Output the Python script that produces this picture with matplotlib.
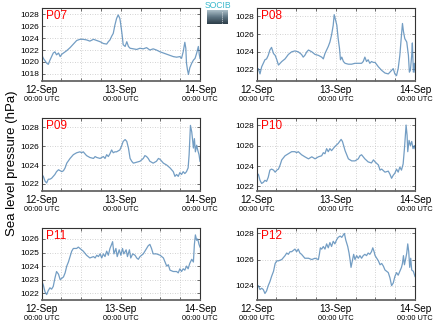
import numpy as np
import matplotlib
matplotlib.use('Agg')
import matplotlib.pyplot as plt
from matplotlib.ticker import MultipleLocator
from matplotlib.colors import LinearSegmentedColormap

plt.rcParams['font.family'] = ['Liberation Sans', 'DejaVu Sans']

# ------------------------------------------------------------
# data: hours after 12-Sep 00:00 UTC and sea level pressure (hPa)
# ------------------------------------------------------------
p07_hours = [0.0, 0.5, 1.5, 2.0, 2.5, 3.5, 4.0, 4.5, 5.1, 5.6, 6.1, 6.6, 7.6, 8.6, 9.6,
             10.6, 11.6, 12.6, 13.6, 14.6, 15.7, 16.7, 17.7, 18.7, 19.7, 20.2, 20.7, 21.2, 21.7, 22.2,
             22.7, 23.2, 23.7, 24.0, 24.4, 24.7, 25.3, 25.8, 26.3, 26.8, 27.8, 28.8, 29.8, 30.8, 31.8,
             32.8, 33.8, 34.8, 35.9, 36.9, 37.9, 38.9, 39.9, 40.9, 41.9, 42.4, 42.9, 43.4, 43.7, 43.9,
             44.2, 44.5, 44.9, 45.5, 46.0, 46.5, 47.0, 47.5, 47.8, 48.0]
p07_hpa = [1021.2, 1020.6, 1019.8, 1019.6, 1020.3, 1021.5, 1021.7, 1021.2, 1021.5, 1020.9,
           1021.3, 1021.5, 1021.9, 1022.4, 1023.0, 1023.6, 1023.8, 1023.8, 1023.7, 1023.5,
           1023.8, 1023.6, 1023.4, 1023.1, 1023.0, 1023.4, 1023.7, 1024.3, 1024.8, 1026.2,
           1027.3, 1027.9, 1027.3, 1026.2, 1024.5, 1022.9, 1022.6, 1023.4, 1022.6, 1022.3,
           1022.2, 1022.1, 1022.3, 1022.2, 1022.4, 1022.0, 1022.2, 1022.0, 1021.7, 1021.5,
           1021.3, 1021.1, 1020.9, 1020.8, 1020.9, 1020.6, 1021.7, 1023.3, 1022.3, 1019.8,
           1018.7, 1017.9, 1019.0, 1019.8, 1020.3, 1020.6, 1021.5, 1022.6, 1021.2, 1020.6]

p08_hours = [0.0, 0.5, 1.0, 1.5, 2.0, 2.5, 3.0, 3.5, 4.0, 4.5, 5.1, 5.6, 6.1, 6.6, 7.1, 7.6,
             8.6, 9.6, 10.6, 11.6, 12.6, 13.6, 14.1, 14.6, 15.2, 15.7, 16.7, 17.7, 18.7, 19.7,
             20.2, 20.7, 21.2, 21.7, 22.2, 22.7, 23.2, 23.5, 23.9, 24.3, 24.7, 25.1, 25.4, 25.8, 26.3, 26.8,
             27.8, 28.8, 29.8, 30.8, 31.8, 32.3, 32.8, 33.3, 33.8, 34.3, 34.8, 35.4, 35.9, 36.9, 37.9, 38.9, 39.9, 40.9,
             41.4, 41.9, 42.4, 42.9, 43.4, 43.9, 44.2, 44.5, 44.9, 45.5, 46.0, 46.3, 46.6, 47.0, 47.2, 47.5, 47.8, 48.0]
p08_hpa = [1021.7, 1022.1, 1021.5, 1022.3, 1022.7, 1023.1, 1023.2, 1023.6, 1024.2, 1024.5, 1023.8, 1023.6, 1023.1, 1022.5, 1022.7, 1022.9,
           1023.2, 1023.7, 1024.0, 1024.1, 1024.0, 1023.7, 1023.4, 1023.6, 1024.0, 1024.2, 1024.0, 1023.7, 1023.6, 1023.4,
           1023.2, 1023.8, 1024.2, 1024.6, 1025.1, 1025.9, 1027.0, 1028.2, 1027.6, 1027.0, 1025.5, 1024.4, 1023.1, 1023.4, 1022.9, 1022.7,
           1022.6, 1022.6, 1022.7, 1022.7, 1022.7, 1022.9, 1023.4, 1022.9, 1023.1, 1022.7, 1022.9, 1022.8, 1022.8, 1022.3, 1021.9, 1021.6, 1021.5, 1021.9,
           1022.1, 1021.5, 1021.3, 1022.1, 1023.6, 1025.9, 1027.2, 1026.3, 1025.5, 1025.1, 1023.6, 1021.7, 1021.9, 1023.6, 1025.0, 1021.7, 1022.7, 1021.7]

p09_hours = [0.0, 0.5, 1.0, 1.5, 2.0, 2.5, 3.0, 3.5, 4.0, 4.5, 5.1, 5.6, 6.1, 6.6, 7.1, 7.6,
             8.6, 9.6, 10.6, 11.6, 12.1, 12.6, 13.6, 14.6,
             15.7, 16.2, 16.7, 17.7, 18.7, 19.2, 19.7, 20.2, 20.7, 21.2, 21.7, 22.2, 22.7,
             23.7, 24.2, 24.7, 25.3, 25.8, 26.3, 26.8, 27.3, 27.8,
             28.8, 29.8, 30.8, 31.3, 31.8, 32.3, 32.8, 33.8, 34.8, 35.4, 35.9,
             36.9, 37.9, 38.9, 39.9, 40.4, 40.9, 41.4, 41.9, 42.4, 42.9, 43.4, 43.9, 44.4,
             44.7, 45.1, 45.5, 45.8, 46.0, 46.3, 46.6, 47.0, 47.3, 47.7, 48.0]
p09_hpa = [1023.0, 1022.8, 1022.3, 1022.1, 1022.5, 1022.5, 1022.6, 1022.8, 1023.0, 1023.3, 1023.5, 1023.4, 1023.3, 1023.4, 1023.7, 1024.2,
           1024.7, 1025.1, 1025.3, 1025.4, 1025.3, 1025.4, 1025.0, 1024.8,
           1024.7, 1024.9, 1024.8, 1024.7, 1024.9, 1024.7, 1025.1, 1024.9, 1025.2, 1025.6, 1025.3, 1025.4, 1025.4,
           1025.6, 1026.0, 1026.5, 1026.7, 1026.5, 1025.8, 1024.7, 1024.4, 1024.2,
           1024.3, 1024.4, 1024.7, 1025.0, 1024.9, 1024.7, 1024.4, 1024.2, 1024.4, 1024.7, 1024.6,
           1024.2, 1024.0, 1023.7, 1023.3, 1022.8, 1023.0, 1022.8, 1023.2, 1023.0, 1023.3, 1023.1, 1023.3, 1023.7,
           1025.1, 1028.2, 1027.5, 1026.5, 1025.8, 1026.8, 1025.4, 1026.1, 1025.6, 1025.1, 1024.4]

p10_hours = [0.0, 0.5, 1.0, 1.5, 2.0, 2.5, 3.0, 3.5, 4.0, 4.5, 5.1, 5.6, 6.1, 6.6, 7.1, 7.6,
             8.6, 9.6, 10.6, 11.6, 12.1, 12.6, 13.6, 14.6, 15.7, 16.7, 17.7, 18.7, 19.7, 20.2,
             20.7, 21.2, 21.7, 22.2, 22.7, 23.7, 24.7, 25.6, 26.0, 26.8, 27.8, 28.8, 29.8, 30.8,
             31.3, 31.8, 32.8, 33.8, 34.8, 35.4, 35.9, 36.9, 37.4, 37.9, 38.9, 39.9, 40.4, 40.9,
             41.4, 41.9, 42.4, 42.9, 43.4, 43.9, 44.4, 44.8, 45.3, 45.6, 45.8, 46.2, 46.6, 47.0,
             47.4, 47.8, 48.0]
p10_hpa = [1022.9, 1023.2, 1022.6, 1022.3, 1022.4, 1022.6, 1022.5, 1022.9, 1023.6, 1023.7, 1023.6, 1023.4, 1023.6, 1023.7, 1024.1, 1024.6,
           1025.0, 1025.2, 1025.4, 1025.4, 1025.3, 1025.4, 1025.1, 1024.9, 1024.7, 1024.9, 1024.7, 1024.9, 1025.0, 1025.3,
           1025.2, 1025.7, 1025.4, 1025.7, 1025.5, 1025.9, 1026.2, 1026.6, 1026.4, 1025.5, 1024.7, 1024.5, 1024.5, 1024.7,
           1025.0, 1025.1, 1024.7, 1024.4, 1024.3, 1024.6, 1024.4, 1024.1, 1023.6, 1023.7, 1023.4, 1023.5, 1023.2, 1022.8,
           1023.1, 1023.3, 1023.7, 1023.4, 1023.9, 1023.6, 1024.2, 1025.7, 1028.0, 1027.0, 1025.4, 1026.5, 1026.0, 1026.4,
           1025.7, 1026.0, 1025.7]

p11_hours = [0.0, 0.5, 1.0, 1.5, 2.0, 2.5, 3.0, 3.5, 4.0, 4.5, 5.1, 5.6, 6.1, 6.6, 7.1, 7.6, 8.1, 8.6, 9.1, 9.6,
             10.6, 11.1, 11.6, 12.1, 12.6, 13.6, 14.6, 15.7, 16.2, 16.7, 17.2, 17.7, 18.2, 18.7, 19.2, 19.7,
             20.2, 20.7, 21.2, 21.5, 21.9, 22.5, 22.9, 23.5, 24.0, 24.5, 24.9, 25.6, 26.0, 26.6, 27.0, 27.6,
             28.3, 28.8, 29.3, 29.8, 30.3, 30.8, 31.8, 32.3, 32.8, 33.3, 33.8, 34.8, 35.9, 36.9, 37.4, 37.9,
             38.4, 38.9, 39.9, 40.9, 41.4, 41.9, 42.4, 42.9, 43.4, 43.9, 44.4, 44.9, 45.5, 46.0, 46.3, 46.6,
             47.0, 47.3, 47.7, 48.0]
p11_hpa = [1022.9, 1022.6, 1022.1, 1021.9, 1022.2, 1022.4, 1022.3, 1022.5, 1023.1, 1023.6, 1023.4, 1023.0, 1023.1, 1023.2, 1023.5, 1024.0, 1024.3, 1024.7, 1025.1, 1025.3,
           1025.3, 1025.4, 1025.3, 1025.2, 1025.1, 1024.8, 1024.6, 1024.7, 1024.6, 1024.8, 1024.7, 1024.9, 1024.6, 1024.9, 1024.7, 1025.1,
           1024.8, 1025.3, 1025.6, 1025.8, 1024.9, 1025.3, 1024.7, 1025.2, 1024.8, 1025.3, 1024.9, 1025.2, 1024.7, 1025.2, 1024.6, 1024.9,
           1024.8, 1024.6, 1024.5, 1024.7, 1024.8, 1024.9, 1025.3, 1025.5, 1025.6, 1025.3, 1024.9, 1024.9, 1024.8, 1024.6, 1024.3, 1024.0,
           1024.1, 1023.7, 1023.6, 1023.6, 1023.5, 1023.8, 1023.6, 1023.8, 1023.7, 1024.0, 1023.8, 1024.2, 1024.5, 1024.3, 1025.6, 1026.3,
           1025.9, 1026.0, 1025.6, 1025.4]

p12_hours = [0.0, 0.5, 1.0, 1.5, 2.0, 2.5, 3.0, 3.5, 4.0, 4.5, 5.1, 5.6, 6.1, 6.6, 7.6, 8.6, 9.1, 9.6, 10.1, 10.6,
             11.1, 11.6, 12.1, 12.6, 13.1, 13.6, 14.6, 15.7, 16.7, 17.7, 18.7, 19.0, 19.3, 19.7, 20.2, 20.7,
             21.2, 21.7, 22.2, 22.7, 23.2, 23.7, 24.2, 24.7, 25.3, 25.8, 26.3, 26.6, 27.0, 27.6, 28.0, 28.3,
             28.6, 29.0, 29.4, 29.8, 30.3, 30.8, 31.3, 31.8, 32.3, 32.8, 33.3, 33.8, 34.3, 34.8, 35.2, 35.6,
             35.9, 36.4, 36.9, 37.4, 37.9, 38.4, 38.9, 39.9, 40.4, 40.9, 41.4, 41.9, 42.4, 42.9, 43.4, 43.9,
             44.2, 44.5, 44.8, 45.2, 45.5, 45.8, 46.1, 46.4, 46.7, 47.0, 47.5, 48.0]
p12_hpa = [1023.8, 1024.0, 1023.7, 1023.8, 1023.7, 1023.4, 1023.6, 1024.0, 1024.3, 1024.7, 1025.1, 1025.7, 1025.9, 1025.9, 1026.0, 1026.3, 1026.5, 1026.4, 1026.6, 1026.6,
           1026.7, 1026.8, 1026.6, 1026.8, 1026.5, 1026.4, 1026.1, 1026.1, 1026.0, 1026.1, 1026.0, 1026.4, 1026.9, 1026.8, 1027.0, 1026.8,
           1027.2, 1026.9, 1027.3, 1027.0, 1027.4, 1027.2, 1027.5, 1027.7, 1027.8, 1027.7, 1027.9, 1028.0, 1027.5, 1027.0, 1026.5, 1026.0,
           1025.4, 1025.9, 1026.4, 1026.0, 1026.3, 1026.1, 1026.3, 1026.1, 1026.3, 1026.4, 1026.3, 1026.5, 1026.4, 1026.6, 1026.9, 1026.6,
           1026.3, 1026.1, 1025.9, 1025.6, 1025.7, 1025.5, 1025.2, 1025.0, 1024.6, 1024.0, 1024.2, 1024.7, 1025.0, 1024.8, 1025.1, 1025.4,
           1025.7, 1026.3, 1025.6, 1026.1, 1026.5, 1027.2, 1026.6, 1025.4, 1026.1, 1025.2, 1025.1, 1024.7]

stations = ['P07', 'P08', 'P09', 'P10', 'P11', 'P12']
hours = [p07_hours, p08_hours, p09_hours, p10_hours, p11_hours, p12_hours]
pressure = [p07_hpa, p08_hpa, p09_hpa, p10_hpa, p11_hpa, p12_hpa]
y_ticks = [[1018, 1020, 1022, 1024, 1026, 1028],
           [1022, 1024, 1026, 1028],
           [1022, 1024, 1026, 1028],
           [1022, 1024, 1026, 1028],
           [1022, 1023, 1024, 1025, 1026],
           [1024, 1026, 1028]]
y_limits = [(1016.8, 1029.06), (1020.7, 1028.95), (1021.23, 1028.95),
            (1021.54, 1028.66), (1021.5, 1026.83), (1022.9, 1028.44)]
day_ticks = [0, 24, 48]
day_labels = ['12-Sep', '13-Sep', '14-Sep']
time_label = '00:00 UTC'

# ------------------------------------------------------------
# layout (pixels of a 434x327 figure)
# ------------------------------------------------------------
W, H = 434.0, 327.0
col_left = [41.7, 256.7]
ax_w = 158.3
row_top = [8.0, 118.3, 227.7]
row_bot = [81.0, 191.2, 300.0]

line_color = '#5085b5'
grid_color = '#c4c4c4'

fig = plt.figure(figsize=(W / 100, H / 100), dpi=100)

for i, name in enumerate(stations):
    r, c = divmod(i, 2)
    rect = [col_left[c] / W, 1 - row_bot[r] / H, ax_w / W, (row_bot[r] - row_top[r]) / H]
    ax = fig.add_axes(rect)
    ax.plot(hours[i], pressure[i], color=line_color, lw=0.9, alpha=0.8)
    ax.set_xlim(0, 48)
    ax.set_ylim(*y_limits[i])

    ax.set_xticks(day_ticks)
    ax.set_xticklabels(day_labels, fontsize=7.2)
    ax.xaxis.set_minor_locator(MultipleLocator(6))
    ax.set_yticks(y_ticks[i])
    ax.set_yticklabels([str(t) for t in y_ticks[i]], fontsize=6)

    ax.grid(True, which='both', axis='x', color=grid_color, lw=0.6, ls=(0, (1, 2)))
    ax.grid(True, which='major', axis='y', color=grid_color, lw=0.6, ls=(0, (1, 2)))
    ax.tick_params(which='both', direction='in', length=2, width=0.6, top=True, right=True,
                   color='#555555')
    ax.tick_params(axis='x', pad=3)
    ax.tick_params(axis='y', pad=2)
    for s in ax.spines.values():
        s.set_color('#333333')
        s.set_linewidth(0.8)
    ax.spines['bottom'].set_color('#666666')
    ax.spines['bottom'].set_linewidth(1.3)

    for t in day_ticks:
        ax.annotate(time_label, xy=(t, 0), xycoords=('data', 'axes fraction'),
                    xytext=(0, -13.5), textcoords='offset points',
                    ha='center', va='center', fontsize=5.3)

    ax.text(0.025, 0.975, name, transform=ax.transAxes, color='red', fontsize=8.5,
            ha='left', va='top')

fig.text(12 / W, 0.5, 'Sea level pressure (hPa)', rotation=90, fontsize=9.5,
         ha='center', va='center')

# small logo at the top
logo = fig.add_axes([207 / W, 1 - 24 / H, 21 / W, 14 / H])
logo_cmap = LinearSegmentedColormap.from_list('logo', ['#a9bcc6', '#5d7482', '#2e3f4a'])
grad = np.tile(np.linspace(0, 1, 20).reshape(-1, 1), (1, 21))
logo.imshow(grad, aspect='auto', cmap=logo_cmap, extent=(0, 21, 14, 0))
logo.plot([15, 15], [2, 13], color='white', lw=0.6, ls=(0, (1, 1.5)))
logo.set_xlim(0, 21)
logo.set_ylim(14, 0)
logo.axis('off')
fig.text(217.5 / W, 1 - 5 / H, 'SOCIB', color='#39b8cc', fontsize=6.2, ha='center', va='center')

fig.savefig('out.png', dpi=100)
